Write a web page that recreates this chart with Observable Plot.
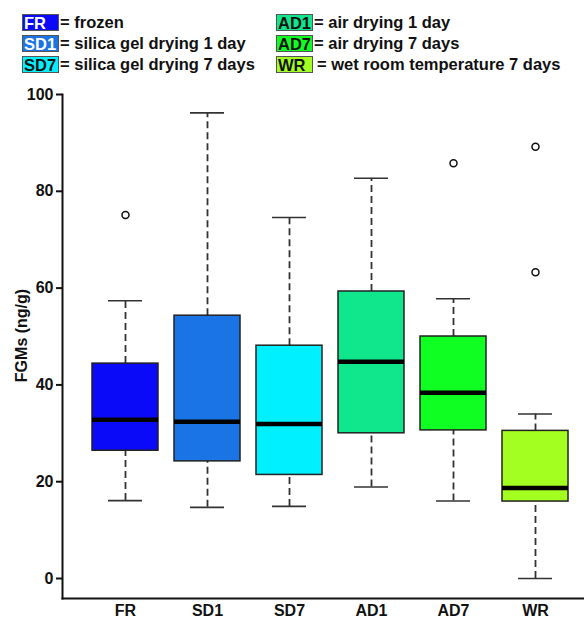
<!DOCTYPE html>
<html>
<head>
<meta charset="utf-8">
<script src="https://cdn.jsdelivr.net/npm/d3@7"></script>
<script src="https://cdn.jsdelivr.net/npm/@observablehq/plot@0.6"></script>
<style>
  body { margin: 0; background: white; font-family: "Liberation Sans", Arial, sans-serif; }
  #legend { position: relative; width: 584px; height: 80px; }
  .item { position: absolute; height: 16px; font-weight: bold; font-size: 16.5px; line-height: 16px; white-space: pre; color: #111; }
  .key { display: inline-block; width: 34px; height: 15px; line-height: 16px; border: 1px solid #555; padding-left: 1px; vertical-align: top; }
  .desc { position: absolute; top: 0; }
</style>
</head>
<body>
<div id="legend"></div>
<div id="chart"></div>
<script>
const categories = ["FR", "SD1", "SD7", "AD1", "AD7", "WR"];
const lowerWhisker = [16.1, 14.7, 14.9, 18.9, 16.0, 0.0];
const q1 = [26.4, 24.2, 21.4, 30.0, 30.6, 15.9];
const median = [32.8, 32.4, 31.9, 44.8, 38.4, 18.7];
const q3 = [44.4, 54.3, 48.1, 59.3, 50.0, 30.5];
const upperWhisker = [57.4, 96.2, 74.6, 82.7, 57.8, 34.0];
const outlierGroup = ["FR", "AD7", "WR", "WR"];
const outlierValue = [75.1, 85.8, 89.2, 63.3];
const colors = ["#0a0af8", "#1a74e6", "#00f0ff", "#10e68c", "#10ff22", "#a3ff1f"];
const legendText = ["= frozen", "= silica gel drying 1 day", "= silica gel drying 7 days",
                    "= air drying 1 day", "= air drying 7 days", "= wet room temperature 7 days"];
const legendKeyTextColor = ["white", "white", "#111", "#111", "#111", "#111"];
const yTicks = [0, 20, 40, 60, 80, 100];
const yLabel = "FGMs (ng/g)";

// legend
const legend = document.getElementById("legend");
categories.forEach((c, i) => {
  const col = Math.floor(i / 3), row = i % 3;
  const d = document.createElement("div");
  d.className = "item";
  d.style.left = (col === 0 ? 22 : 276) + "px";
  d.style.top = (14 + row * 21) + "px";
  const k = document.createElement("span");
  k.className = "key";
  k.style.background = colors[i];
  k.style.color = legendKeyTextColor[i];
  k.textContent = c;
  const t = document.createElement("span");
  t.className = "desc";
  t.style.left = (c === "WR" ? 41 : 38) + "px";
  t.textContent = legendText[i];
  d.appendChild(k); d.appendChild(t);
  legend.appendChild(d);
});

const stats = categories.map((g, i) => ({
  group: g, lo: lowerWhisker[i], q1: q1[i], median: median[i], q3: q3[i], hi: upperWhisker[i]
}));
const outliers = outlierGroup.map((g, i) => ({group: g, value: outlierValue[i]}));

const chart = Plot.plot({
  width: 584,
  height: 539,
  marginLeft: 62,
  marginRight: 0,
  marginTop: 14,
  marginBottom: 21,
  style: {fontFamily: '"Liberation Sans", Arial, sans-serif', fontSize: "16px", fontWeight: "bold", color: "#111", background: "white", overflow: "visible"},
  x: {domain: categories, paddingInner: 0.198, paddingOuter: 0.2705, align: 0.652},
  y: {domain: [-4.13, 100]},
  color: {domain: categories, range: colors},
  marks: [
    Plot.ruleX(stats, {x: "group", y1: "q3", y2: "hi", stroke: "#333", strokeWidth: 1.8, strokeDasharray: "7,4"}),
    Plot.ruleX(stats, {x: "group", y1: "lo", y2: "q1", stroke: "#333", strokeWidth: 1.8, strokeDasharray: "7,4"}),
    Plot.tickY(stats, {x: "group", y: "hi", insetLeft: 16, insetRight: 16, stroke: "#333", strokeWidth: 1.6}),
    Plot.tickY(stats, {x: "group", y: "lo", insetLeft: 16, insetRight: 16, stroke: "#333", strokeWidth: 1.6}),
    Plot.barY(stats, {x: "group", y1: "q1", y2: "q3", fill: "group", stroke: "#222", strokeWidth: 1.5}),
    Plot.tickY(stats, {x: "group", y: "median", stroke: "black", strokeWidth: 4.5}),
    Plot.dot(outliers, {x: "group", y: "value", r: 3.5, stroke: "#111", strokeWidth: 1.5, fill: "white"}),
    Plot.axisY({ticks: yTicks, tickSize: 6, tickPadding: 3, strokeWidth: 2, label: null, tickFormat: d => String(d)}),
    Plot.axisX({tickSize: 0, tickPadding: 6, label: null}),
    Plot.frame({anchor: "left", stroke: "#111", strokeWidth: 2}),
    Plot.frame({anchor: "bottom", stroke: "#111", strokeWidth: 2}),
    Plot.text([yLabel], {frameAnchor: "left", textAnchor: "middle", dx: -41, dy: -11, rotate: -90, fontSize: 16, fontWeight: "bold", fill: "#111"})
  ]
});
document.getElementById("chart").appendChild(chart);
</script>
</body>
</html>
